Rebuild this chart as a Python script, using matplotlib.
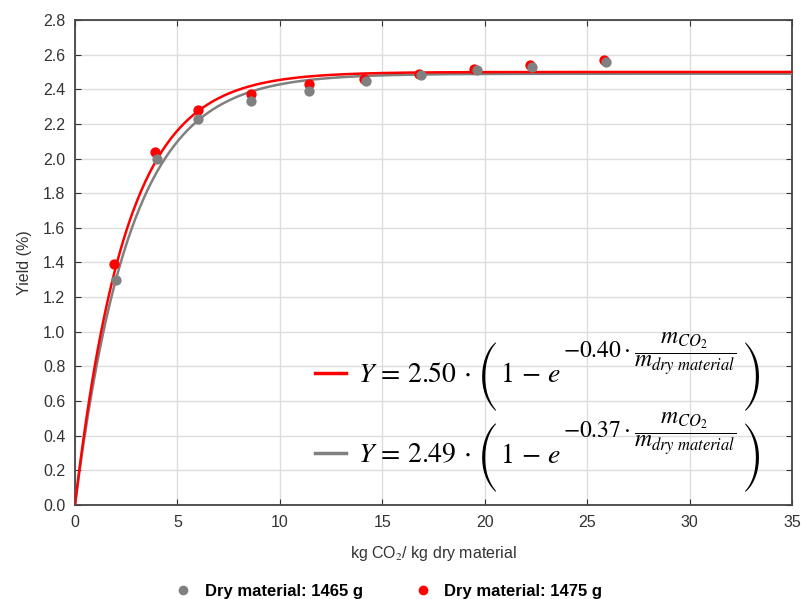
import numpy as np
import matplotlib
matplotlib.use("Agg")
import matplotlib.pyplot as plt
from matplotlib.lines import Line2D

plt.rcParams["font.family"] = ["Liberation Sans", "DejaVu Sans"]
plt.rcParams["mathtext.fontset"] = "stix"

x_1465 = [2.0, 4.0, 6.0, 8.6, 11.4, 14.2, 16.9, 19.6, 22.3, 25.9]
y_1465 = [1.30, 2.00, 2.23, 2.33, 2.39, 2.45, 2.48, 2.51, 2.53, 2.56]
x_1475 = [1.9, 3.9, 6.0, 8.6, 11.4, 14.1, 16.8, 19.5, 22.2, 25.8]
y_1475 = [1.39, 2.04, 2.28, 2.37, 2.43, 2.46, 2.49, 2.52, 2.54, 2.57]

# fit parameters: Y = a * (1 - exp(-k * x))
a_1475, k_1475 = 2.50, 0.40
a_1465, k_1465 = 2.49, 0.37

GRAY = "#808080"
RED = "#ff0000"

fig = plt.figure(figsize=(8.01, 5.99), dpi=100)
ax = fig.add_axes([0.0936, 0.157, 0.8952, 0.8096])

xs = np.linspace(0, 35, 500)
ax.plot(xs, a_1465 * (1 - np.exp(-k_1465 * xs)), color=GRAY, lw=1.8, zorder=3)
ax.plot(xs, a_1475 * (1 - np.exp(-k_1475 * xs)), color=RED, lw=1.8, zorder=4)
ax.scatter(x_1475, y_1475, s=55, color=RED, zorder=5, linewidths=0)
ax.scatter(x_1465, y_1465, s=55, color=GRAY, zorder=6, linewidths=0)

ax.set_xlim(0, 35)
ax.set_ylim(0, 2.8)
ax.set_xticks(np.arange(0, 36, 5))
ax.set_yticks(np.arange(0, 2.81, 0.2))
ax.set_yticklabels([f"{v:.1f}" for v in np.arange(0, 2.81, 0.2)])
ax.grid(True, color="#dddddd", lw=1)
ax.set_axisbelow(True)
for s in ax.spines.values():
    s.set_color("#444444")
    s.set_linewidth(1.3)
ax.tick_params(direction="in", length=4, color="#333333", labelsize=11.5,
               labelcolor="#333333", top=True, right=True, pad=7)

ax.set_xlabel("kg CO$_2$/ kg dry material", fontsize=11.5, color="#333333", labelpad=10)
ax.set_ylabel("Yield (%)", fontsize=11.5, color="#333333", labelpad=8)

# equation legend: head of each formula is the legend label, the rest is chained on
h_red = Line2D([], [], color=RED, lw=2.5)
h_gray = Line2D([], [], color=GRAY, lw=2.5)
leg = ax.legend([h_red, h_gray],
                [rf"$Y\,=\,{a_1475:.2f}\,\cdot$", rf"$Y\,=\,{a_1465:.2f}\,\cdot$"],
                loc="upper left", bbox_to_anchor=(0.335, 0.294), frameon=False,
                fontsize=20, handlelength=1.1, handletextpad=0.45, labelspacing=1.95,
                borderpad=0, borderaxespad=0)
fig.canvas.draw()


def piece(prev, s, y_px, dx, dy, **kw):
    return ax.annotate(s, xy=(1, y_px), xycoords=(prev, "figure pixels"),
                       xytext=(dx, dy), textcoords="offset points",
                       ha="left", va="baseline", **kw)


paren = dict(family="STIXSizeThreeSym", fontsize=20.3)
for txt, k in zip(leg.get_texts(), [k_1475, k_1465]):
    y_px = txt.get_transform().transform(txt.get_position())[1]
    p1 = piece(txt, "(", y_px, 4, -13, **paren)
    b = piece(p1, r"$1\,-\,e$", y_px, 2, 0, fontsize=20)
    e = piece(b, rf"$-{k:.2f}\cdot\dfrac{{m_{{CO_2}}}}{{m_{{dry\ material}}}}$",
              y_px, 1, 17, fontsize=17)
    piece(e, ")", y_px, 5, -13, **paren)

pts = [Line2D([], [], ls="", marker="o", ms=7, color=GRAY, mec="none"),
       Line2D([], [], ls="", marker="o", ms=7, color=RED, mec="none")]
fig.legend(pts, ["Dry material: 1465 g", "Dry material: 1475 g"],
           loc="lower center", bbox_to_anchor=(0.48, -0.025), ncol=2, frameon=False,
           prop={"weight": "bold", "size": 12}, handletextpad=0.3, columnspacing=2.6)

fig.savefig("out.png", dpi=100)
